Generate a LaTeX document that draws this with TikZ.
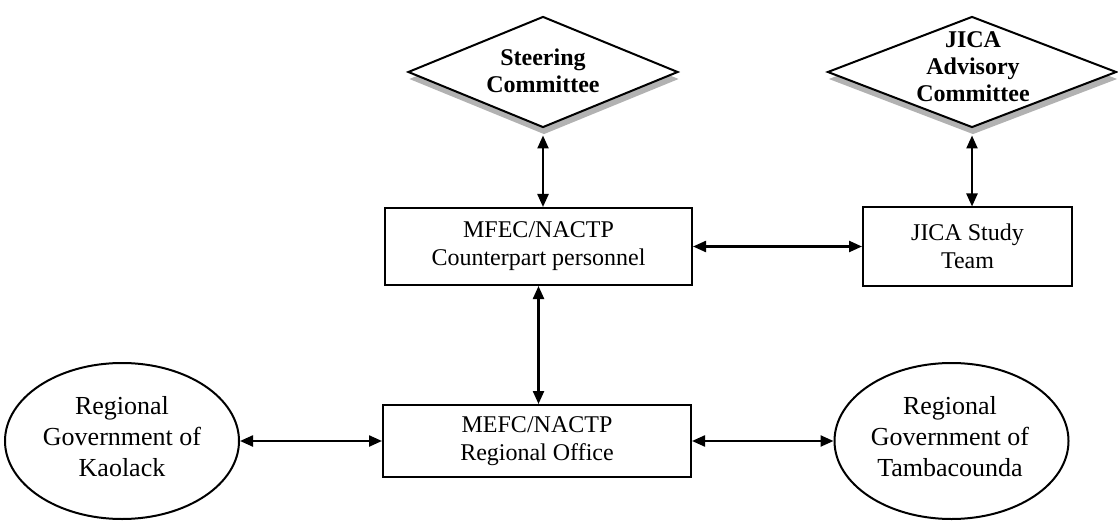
\documentclass[tikz,border=0pt]{standalone}
\usepackage{fontspec}
\setmainfont{Liberation Serif}
\usetikzlibrary{arrows.meta,shapes.geometric,shadows}
\tikzset{
  >={Triangle[length=13pt,width=11pt]},
  boxnode/.style={draw, line width=2pt, inner sep=0pt, align=center,
    font=\fontsize{24}{28}\selectfont},
  ovalnode/.style={draw, ellipse, line width=2pt, inner sep=0pt,
    minimum width=234pt, minimum height=156pt},
  ovaltext/.style={align=center, inner sep=0pt, font=\fontsize{26}{31}\selectfont},
  diamondnode/.style={draw, diamond, fill=white, line width=2pt, inner sep=0pt,
    drop shadow={shadow xshift=1pt, shadow yshift=-7pt, fill=gray!60, opacity=1}},
  dtext/.style={align=center, inner sep=0pt, font=\fontsize{24}{27}\selectfont\bfseries},
  conn/.style={<->, line width=2.3pt},
}
\begin{document}
\begin{tikzpicture}[x=1pt,y=-1pt]
\useasboundingbox (0,0) rectangle (1118,521);

% diamonds
\node[diamondnode, minimum width=270pt, minimum height=111pt] (steer) at (543,72) {};
\node[dtext] (steertext) at (543,71) {Steering\\Committee};
\node[diamondnode, minimum width=289pt, minimum height=111pt] (jadv) at (972,72) {};
\node[dtext] (jadvtext) at (973,67) {JICA\\Advisory\\Committee};

% boxes
\node[boxnode, minimum width=307pt, minimum height=77pt] (mfec) at (538.5,246.5)
  {MFEC/NACTP\\Counterpart personnel};
\node[boxnode, minimum width=209pt, minimum height=78pt] (study) at (967.5,246.5)
  {JICA Study\\Team};
\node[boxnode, minimum width=308pt, minimum height=72pt] (regoff) at (537,441)
  {MEFC/NACTP\\Regional Office};

% ellipses
\node[ovalnode] (kaol) at (122,441) {};
\node[ovaltext] (kaoltext) at (122,437) {Regional\\Government of\\Kaolack};
\node[ovalnode] (tamb) at (951.5,441) {};
\node[ovaltext] (tambtext) at (950,437) {Regional\\Government of\\Tambacounda};

% connectors
\draw[conn] ([yshift=-7pt]steer.south) -- (steer.south |- mfec.north);
\draw[conn] ([yshift=-7pt]jadv.south) -- (jadv.south |- study.north);
\draw[conn] (mfec.east) -- (study.west);
\draw[conn] (mfec.south) -- (mfec.south |- regoff.north);
\draw[conn] (kaol.east) -- (regoff.west);
\draw[conn] (regoff.east) -- (tamb.west);
\end{tikzpicture}
\end{document}
